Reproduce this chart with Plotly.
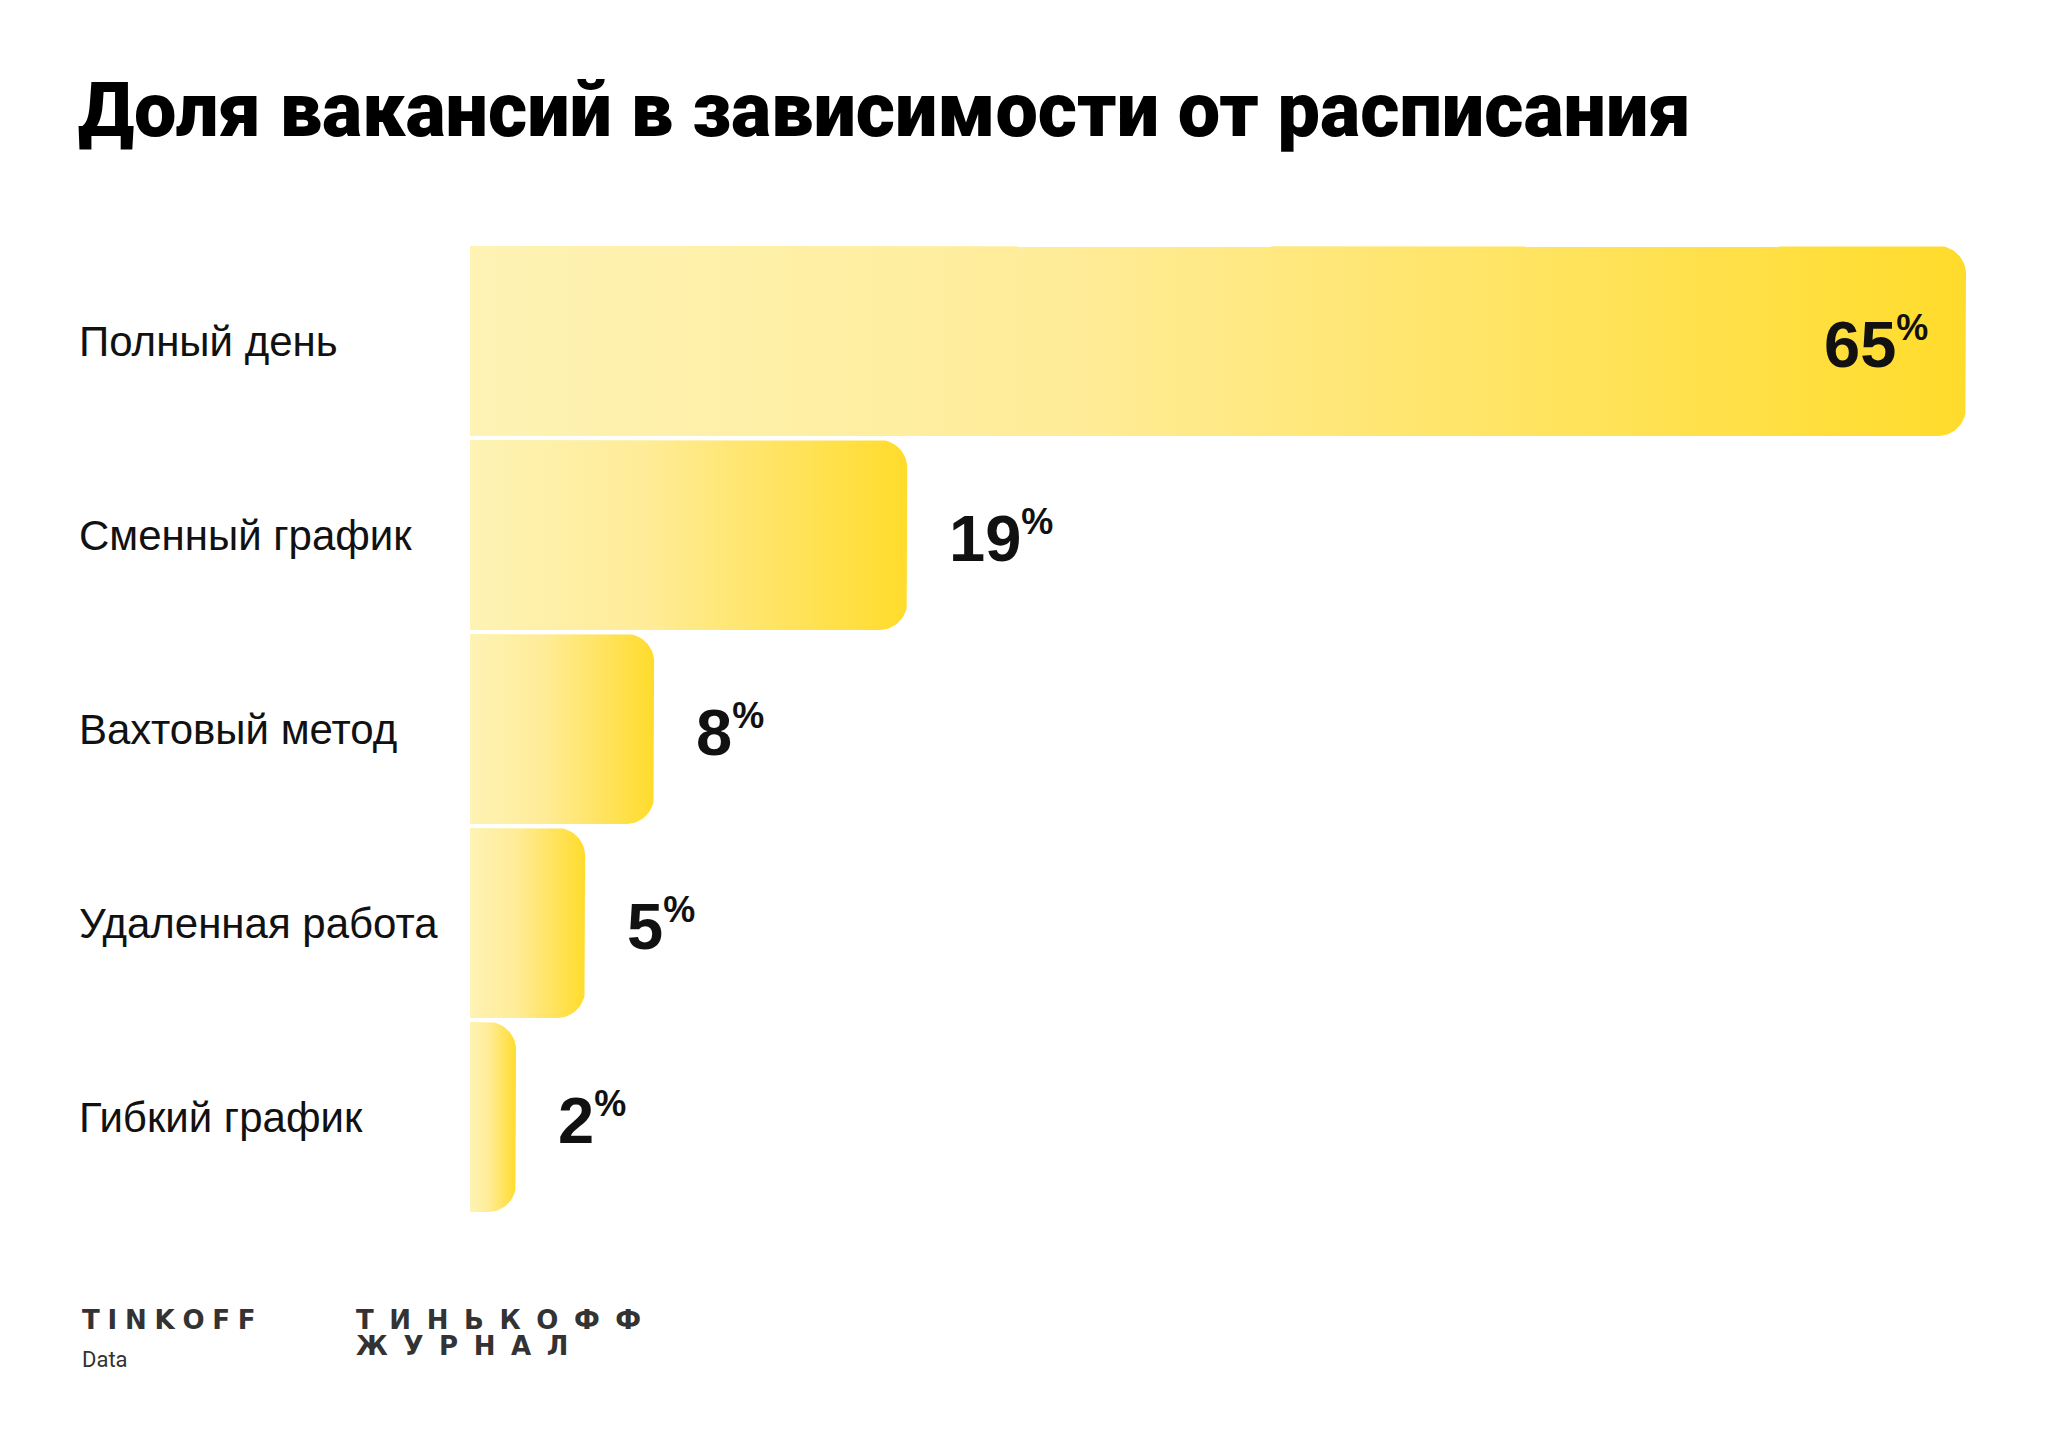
import numpy as np
import plotly.graph_objects as go

# ---- data ----
title_text = "Доля вакансий в зависимости от расписания"
categories = ["Полный день", "Сменный график", "Вахтовый метод", "Удаленная работа", "Гибкий график"]
values = [65, 19, 8, 5, 2]
value_suffix = "%"

# ---- geometry / style ----
W, H = 2048, 1438
ML, MR, MT, MB = 470, 82, 244, 224
XMAX = 65
plot_w = W - ML - MR
plot_h = H - MT - MB
px_per_x = plot_w / XMAX
px_per_y = plot_h / len(categories)
bar_px = 190
radius_px = 28
half = bar_px / px_per_y / 2
rx = radius_px / px_per_x
ry = radius_px / px_per_y

grad = [[0.0, "#FEF3B5"], [0.4, "#FFEC98"], [0.7, "#FFE463"], [1.0, "#FFDC2B"]]

fig = go.Figure()


def bar_path(v, yc):
    t = np.linspace(0, np.pi / 2, 16)
    xs = [0, v - rx]
    ys = [yc - half, yc - half]
    xs += list(v - rx + rx * np.sin(t))
    ys += list(yc - half + ry - ry * np.cos(t))
    xs += list(v - rx + rx * np.cos(t))
    ys += list(yc + half - ry + ry * np.sin(t))
    xs += [0, 0]
    ys += [yc + half, yc - half]
    return xs, ys


for i, (c, v) in enumerate(zip(categories, values)):
    xs, ys = bar_path(v, i)
    fig.add_trace(go.Scatter(
        x=xs, y=ys, mode="lines", fill="toself",
        line=dict(width=0, color="rgba(0,0,0,0)"),
        fillgradient=dict(type="horizontal", colorscale=grad),
        hoverinfo="skip", showlegend=False,
    ))

label_font = dict(family="Liberation Sans, Arial, sans-serif", size=42, color="#111111")
value_font = dict(family="Liberation Sans, Arial, sans-serif", size=65, color="#111111", weight="bold")


def py_to_paper(py):
    return (H - MB - py) / plot_h


def px_to_paper(px):
    return (px - ML) / plot_w


for i, (c, v) in enumerate(zip(categories, values)):
    fig.add_annotation(
        x=px_to_paper(77), xref="paper", y=i, yref="y",
        text=c, showarrow=False, xanchor="left", yanchor="middle",
        font=label_font,
    )
    inside = v == max(values)
    fig.add_annotation(
        x=v, xref="x", y=i, yref="y",
        text=f"{v}<sup><span style='font-size:36px'>{value_suffix}</span></sup>",
        showarrow=False,
        xanchor="right" if inside else "left",
        xshift=-36 if inside else 40, yshift=-3,
        yanchor="middle", font=value_font,
    )

fig.add_annotation(
    x=px_to_paper(76), xref="paper", y=py_to_paper(110), yref="paper",
    text=title_text, showarrow=False, xanchor="left", yanchor="middle",
    font=dict(family="Roboto, sans-serif", size=75.5, color="#000000", weight=900),
)

logo_font = dict(family="DejaVu Sans, sans-serif", size=26, color="#333333", weight="bold")
fig.add_annotation(
    x=px_to_paper(80), xref="paper", y=py_to_paper(1320), yref="paper",
    text=("\u2009\u200a").join("TINKOFF"), showarrow=False, xanchor="left", yanchor="middle",
    font=logo_font,
)
fig.add_annotation(
    x=px_to_paper(80), xref="paper", y=py_to_paper(1359), yref="paper",
    text="Data", showarrow=False, xanchor="left", yanchor="middle",
    font=dict(family="Roboto, sans-serif", size=22, color="#333333"),
)
fig.add_annotation(
    x=px_to_paper(354), xref="paper", y=py_to_paper(1320), yref="paper",
    text=("\u2009\u2009\u2009").join("ТИНЬКОФФ"), showarrow=False, xanchor="left", yanchor="middle",
    font=logo_font,
)
fig.add_annotation(
    x=px_to_paper(354), xref="paper", y=py_to_paper(1346), yref="paper",
    text=("\u2009\u2009\u2009").join("ЖУРНАЛ"), showarrow=False, xanchor="left", yanchor="middle",
    font=logo_font,
)

fig.update_xaxes(range=[0, XMAX], visible=False, showgrid=False, zeroline=False, fixedrange=True)
fig.update_yaxes(range=[len(categories) - 0.5, -0.5], visible=False, showgrid=False,
                 zeroline=False, fixedrange=True)
fig.update_layout(
    width=W, height=H,
    margin=dict(l=ML, r=MR, t=MT, b=MB, pad=0),
    paper_bgcolor="#FFFFFF", plot_bgcolor="#FFFFFF",
    showlegend=False,
)

fig.write_html("out.html", config={"displayModeBar": False})
